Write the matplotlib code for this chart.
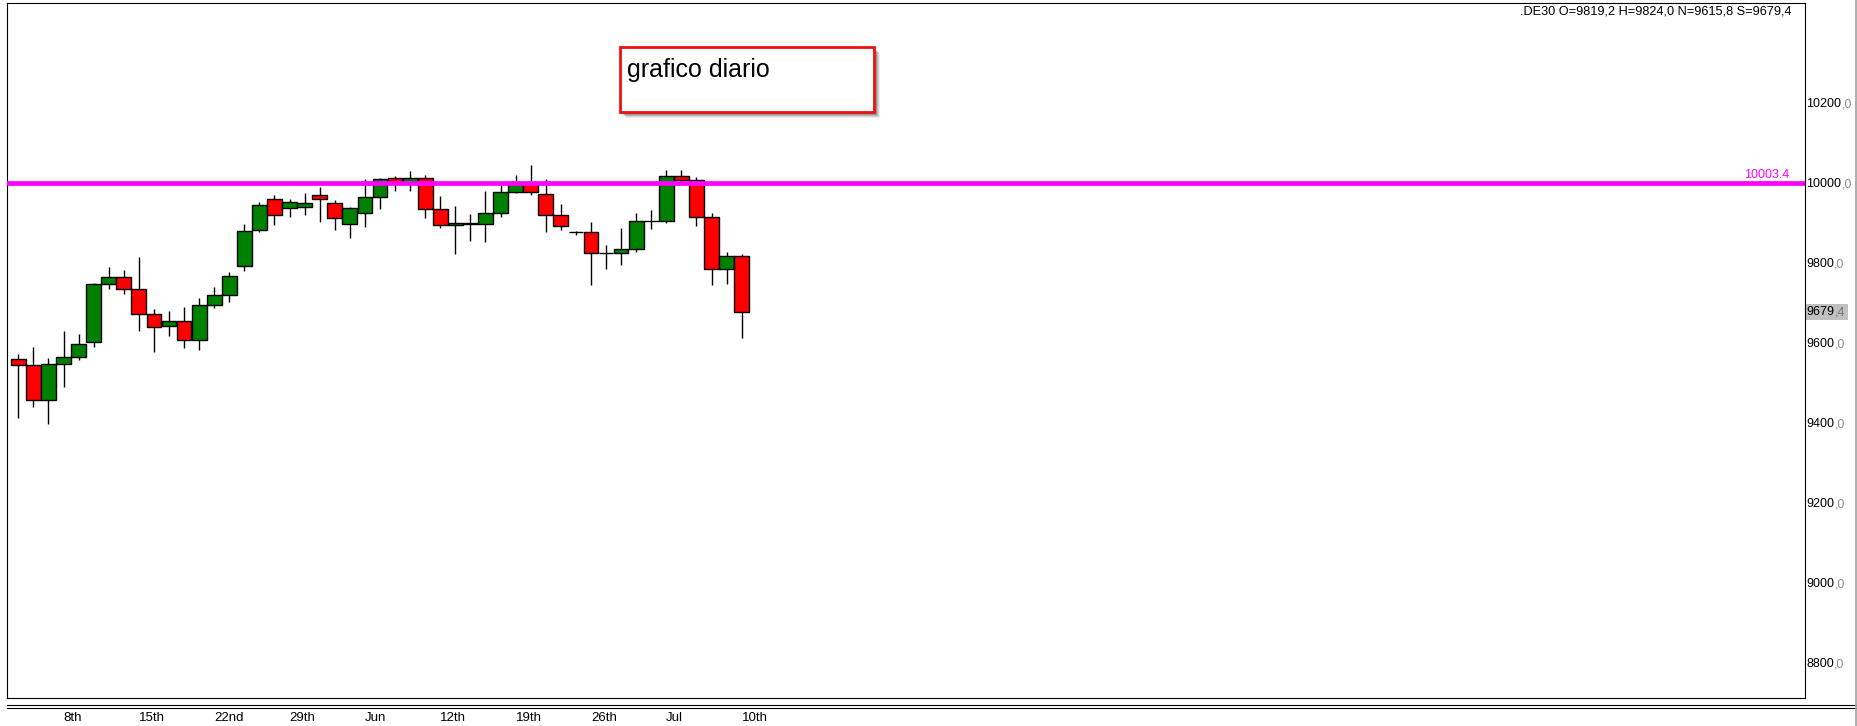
import numpy as np
import matplotlib
matplotlib.use('Agg')
import matplotlib.pyplot as plt
from matplotlib.patches import Rectangle
from matplotlib.lines import Line2D

# daily candles (DE30)
opens = [9563.3, 9546.7, 9459.2, 9549.2, 9566.7, 9604.2, 9749.2, 9766.7, 9736.7, 9674.2,
         9644.2, 9656.7, 9609.2, 9696.7, 9721.7, 9794.2, 9884.2, 9961.7, 9939.2, 9941.7,
         9971.7, 9951.7, 9899.2, 9926.7, 9966.7, 10014.2, 10002.0, 10014.2, 9936.7, 9896.7,
         9900.8, 9899.2, 9926.7, 9979.2, 10003.3, 9974.2, 9921.7, 9879.2, 9879.2, 9827.5,
         9826.7, 9836.7, 9906.7, 9906.7, 10019.2, 10009.2, 9916.7, 9786.7, 9819.2]
highs = [9575.0, 9592.5, 9564.2, 9632.5, 9625.0, 9752.5, 9792.5, 9785.0, 9817.5, 9687.5,
         9682.5, 9692.5, 9715.0, 9742.5, 9780.0, 9900.0, 9955.0, 9972.5, 9962.5, 9977.5,
         9992.5, 9960.0, 9941.7, 10012.5, 10015.0, 10020.8, 10032.5, 10022.5, 9970.0, 9945.0,
         9925.0, 9982.5, 9997.5, 10022.5, 10047.5, 10012.5, 9950.0, 9883.3, 9905.0, 9847.5,
         9890.0, 9927.5, 9935.0, 10035.0, 10035.0, 10016.7, 9927.5, 9830.0, 9824.0]
lows = [9415.8, 9443.3, 9400.8, 9493.3, 9560.0, 9593.3, 9738.3, 9725.8, 9633.3, 9580.8,
        9620.8, 9590.8, 9585.8, 9690.8, 9705.8, 9783.3, 9880.8, 9898.3, 9918.3, 9923.3,
        9905.8, 9885.8, 9865.8, 9893.3, 9938.3, 9983.3, 9983.3, 9915.8, 9890.8, 9825.8,
        9858.3, 9855.8, 9918.3, 9978.4, 9972.5, 9880.8, 9885.0, 9873.3, 9748.3, 9788.3,
        9797.5, 9830.8, 9888.3, 9901.7, 10002.0, 9895.8, 9748.3, 9750.8, 9615.8]
closes = [9546.7, 9459.2, 9549.2, 9566.7, 9599.2, 9749.2, 9766.7, 9736.7, 9674.2, 9641.7,
          9656.7, 9609.2, 9696.7, 9721.7, 9769.2, 9881.7, 9946.7, 9921.7, 9954.2, 9951.7,
          9961.7, 9914.2, 9939.2, 9966.7, 10011.7, 10002.0, 10014.2, 9936.7, 9896.7, 9901.7,
          9901.7, 9926.7, 9979.2, 10004.2, 9979.2, 9921.7, 9894.2, 9879.2, 9826.7, 9828.3,
          9836.7, 9906.7, 9906.7, 10019.2, 10009.2, 9916.7, 9786.7, 9819.2, 9679.4]

date_labels = ['8th', '15th', '22nd', '29th', 'Jun', '12th', '19th', '26th', 'Jul', '10th']
date_index = [3, 8, 13, 18, 23, 28, 33, 38, 43, 48]

price_ticks = [8800, 9000, 9200, 9400, 9600, 9800, 10000, 10200]
level = 10003.4
last_price = 9679.4
info = '.DE30 O=9819,2 H=9824,0 N=9615,8 S=9679,4'
note = 'grafico diario'

plt.rcParams['font.family'] = ['Liberation Sans', 'DejaVu Sans']

W, H = 1857, 726
fig = plt.figure(figsize=(W / 100, H / 100), dpi=100)
ax = fig.add_axes([7 / W, 1 - 698 / H, (1805 - 7) / W, (698 - 3) / H])

x = np.arange(len(opens))
o = np.array(opens)
c = np.array(closes)
cols = np.where(c >= o, '#008000', '#ff0000')

ax.vlines(x, lows, highs, color='black', lw=1, zorder=2)
ax.bar(x, np.abs(c - o), width=0.98, bottom=np.minimum(o, c), color=cols,
       edgecolor='black', linewidth=1, zorder=3)
ax.axhline(level, color='#ff00ff', lw=3.4, zorder=4)
ax.text(0.9915, level + 4, f'{level}', transform=ax.get_yaxis_transform(),
        ha='right', va='bottom', color='#ff00ff', fontsize=9)

ax.set_xlim(-0.75, 118.56)
ax.set_ylim(8715, 10452.5)
ax.set_yticks([])
ax.set_xticks(date_index)
ax.set_xticklabels(date_labels, ha='left')
ax.tick_params(axis='x', length=0, pad=10, labelsize=9.5)
for s in ax.spines.values():
    s.set_linewidth(0.8)

ax.text(0.9925, 0.996, info, transform=ax.transAxes, ha='right', va='top', fontsize=9.2)

# right price scale
ytr = ax.get_yaxis_transform()
ax.add_patch(Rectangle((1.0006, last_price - 20), 0.0233, 40, transform=ytr,
                       facecolor='#c0c0c0', edgecolor='none', clip_on=False))
nums = []
for v in price_ticks:
    t = ax.text(1.0008, v, f'{v}', transform=ytr, ha='left', va='center', fontsize=9)
    nums.append((t, v, ',0', '#8c8c9c'))
t = ax.text(1.0008, last_price, f'{int(last_price)}', transform=ytr, ha='left',
            va='center', fontsize=9)
nums.append((t, last_price, ',4', '#707070'))

# bottom double rule and right edge
for yy in (705, 708):
    fig.add_artist(Line2D([7 / W, 1], [1 - yy / H] * 2, transform=fig.transFigure,
                          color='black', lw=0.8))
fig.add_artist(Line2D([1 - 1 / W] * 2, [0, 1], transform=fig.transFigure,
                      color='#a0a0a0', lw=1.2))

# note box with shadow
bx, by, bw, bh = 620 / W, 1 - 112 / H, 254 / W, 65 / H
for k, a in [(6, 0.10), (5, 0.15), (4, 0.22), (3, 0.3)]:
    fig.add_artist(Rectangle((bx + k / W, by - k / H), bw, bh, transform=fig.transFigure,
                             facecolor='#505050', edgecolor='none', alpha=a))
fig.add_artist(Rectangle((bx, by), bw, bh, transform=fig.transFigure,
                         facecolor='white', edgecolor='#ee1111', lw=2))
fig.text(627 / W, 1 - 77 / H, note, ha='left', va='baseline', fontsize=18)

fig.canvas.draw()
r = fig.canvas.get_renderer()
for t, v, dec, col in nums:
    bb = t.get_window_extent(r)
    xa = ax.transAxes.inverted().transform((bb.x1, 0))[0]
    ax.text(xa, v, dec, transform=ytr, ha='left', va='center', fontsize=9, color=col)

fig.savefig('out.png', dpi=100)
